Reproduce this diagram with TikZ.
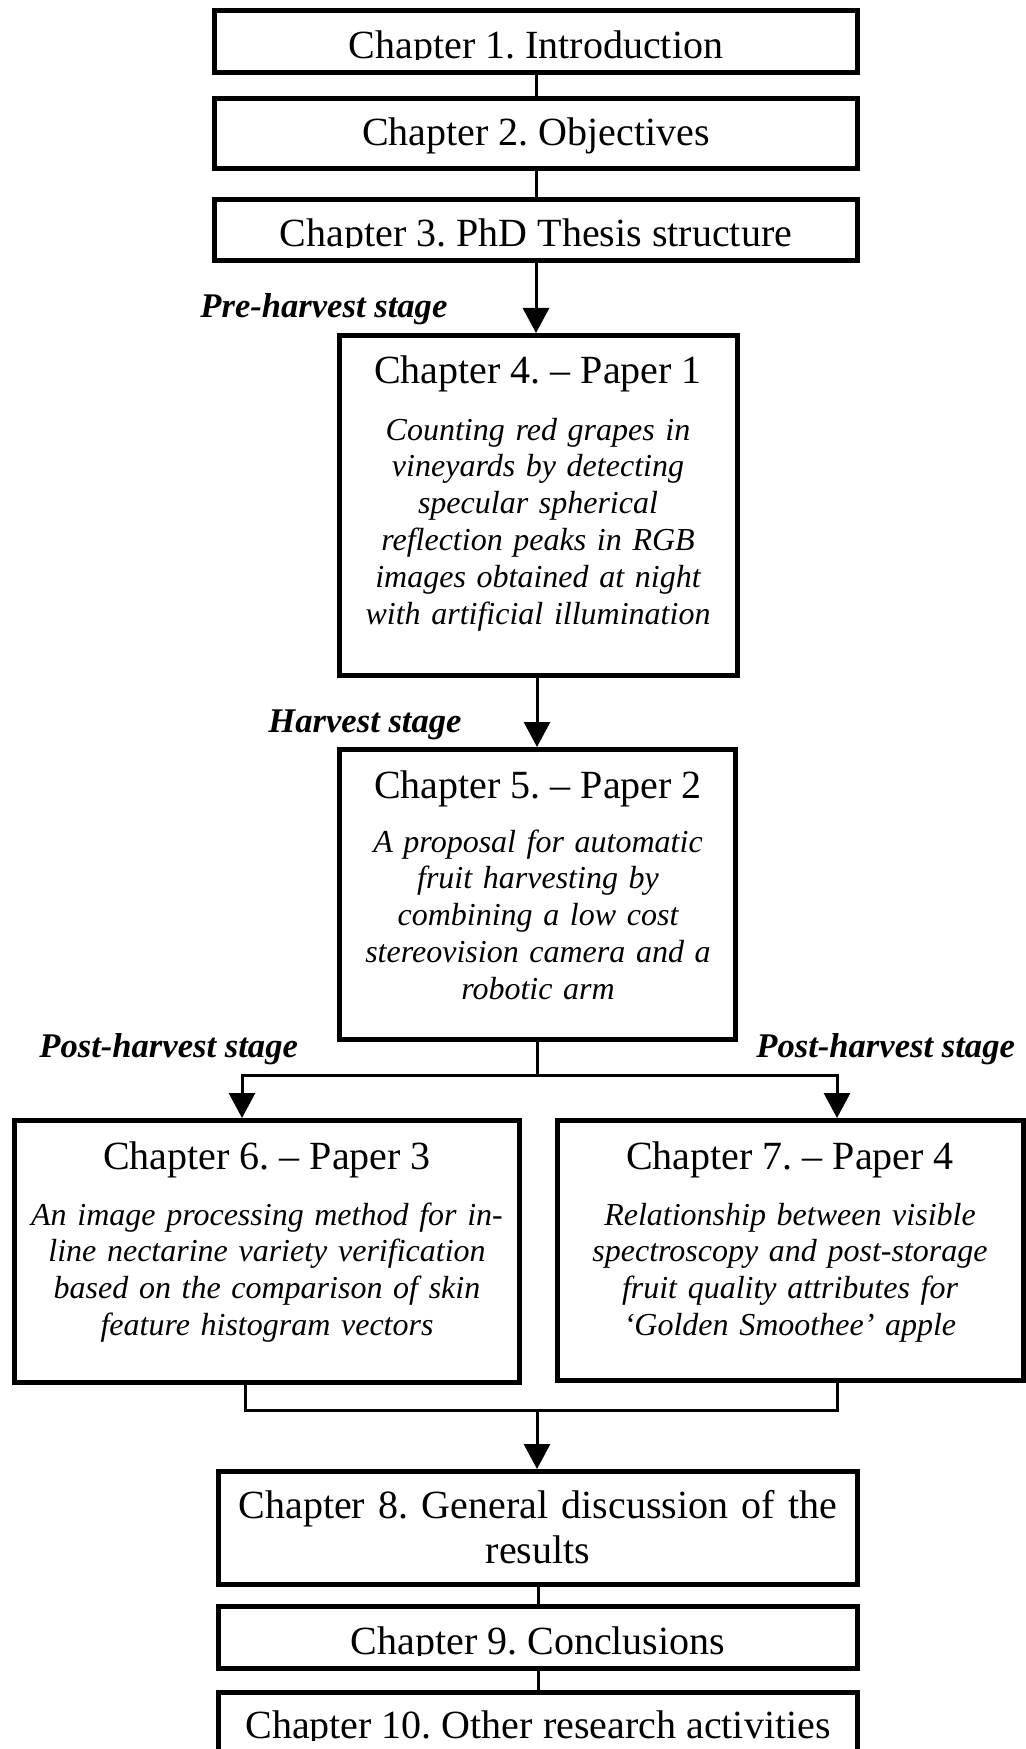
\documentclass[tikz,border=0pt]{standalone}
\usepackage{fontspec}
\setmainfont{Liberation Serif}
\usetikzlibrary{arrows.meta}
\frenchspacing

\tikzset{
    chapbox/.style={draw, line width=2.5pt, inner sep=0pt},
    chaptitle/.style={font=\fontsize{20}{22.5}\selectfont, inner sep=0pt, align=center},
    paper/.style={font=\itshape\fontsize{16}{18.4}\selectfont, inner sep=0pt, align=center},
    stage/.style={font=\bfseries\itshape\fontsize{17.3}{20}\selectfont, inner sep=0pt},
    link/.style={line width=1.5pt},
    flow/.style={link, -{Triangle[width=13pt,length=12.5pt]}}
}

\begin{document}
\begin{tikzpicture}[x=0.5pt,y=-0.5pt]
                \useasboundingbox (0,0) rectangle (1026,1749);

                \def\trunkx{537}

                \node[chapbox, minimum width=321.5pt, minimum height=31pt] (ch1) at (536,41.5) {};
                \node[chapbox, minimum width=321.5pt, minimum height=35pt] (ch2) at (536,133.5) {};
                \node[chapbox, minimum width=321.5pt, minimum height=30.5pt] (ch3) at (536,230) {};
                \node[chapbox, minimum width=199pt, minimum height=170pt] (ch4) at (538.5,505.5) {};
                \node[chapbox, minimum width=198pt, minimum height=145pt] (ch5) at (537.5,894.5) {};
                \node[chapbox, minimum width=252.5pt, minimum height=131pt] (ch6) at (267,1251.5) {};
                \node[chapbox, minimum width=233pt, minimum height=130pt] (ch7) at (790.5,1250.5) {};
                \node[chapbox, minimum width=319.5pt, minimum height=56.5pt] (ch8) at (538,1528) {};
                \node[chapbox, minimum width=319.5pt, minimum height=31pt] (ch9) at (538,1637.5) {};
                \node[chapbox, minimum width=319.5pt, minimum height=35pt] (ch10) at (538,1727) {};

                \begin{scope}
                    \clip (0,0) rectangle (1026,60);
                    \node[chaptitle, anchor=base] (ch1txt) at (536,59) {Chapter 1. Introduction};
                \end{scope}
                \node[chaptitle, anchor=base] (ch2txt) at (536,146) {Chapter 2. Objectives};
                \begin{scope}
                    \clip (0,180) rectangle (1026,248);
                    \node[chaptitle, anchor=base] (ch3txt) at (536,246.5) {Chapter 3. PhD Thesis structure};
                \end{scope}

                \node[chaptitle, anchor=base] (ch4txt) at (538,384) {Chapter 4. – Paper 1};
                \node[paper, text width=195pt, anchor=base] (paper1) at (538,440)
                    {Counting red grapes in\\ vineyards by detecting\\ specular spherical\\ reflection peaks in RGB\\ images obtained at night\\ with artificial illumination};

                \node[chaptitle, anchor=base] (ch5txt) at (538,798) {Chapter 5. – Paper 2};
                \node[paper, text width=195pt, anchor=base] (paper2) at (538,852)
                    {A proposal for automatic\\ fruit harvesting by\\ combining a low cost\\ stereovision camera and a\\ robotic arm};

                \node[chaptitle, anchor=base] (ch6txt) at (267,1169) {Chapter 6. – Paper 3};
                \node[paper, text width=248pt, anchor=base] (paper3) at (267,1225)
                    {An image processing method for in-\\ line nectarine variety verification\\ based on the comparison of skin\\ feature histogram vectors};

                \node[chaptitle, anchor=base] (ch7txt) at (790,1169) {Chapter 7. – Paper 4};
                \node[paper, text width=228pt, anchor=base] (paper4) at (790,1225)
                    {Relationship between visible\\ spectroscopy and post-storage\\ fruit quality attributes for\\ ‘Golden Smoothee’ apple};

                \node[chaptitle, text width=315pt, anchor=base] (ch8txt) at (538,1518) {Chapter 8. General discussion of the\\ results};
                \begin{scope}
                    \clip (0,1600) rectangle (1026,1655.5);
                    \node[chaptitle, anchor=base] (ch9txt) at (538,1654) {Chapter 9. Conclusions};
                \end{scope}
                \begin{scope}
                    \clip (0,1690) rectangle (1026,1740);
                    \node[chaptitle, anchor=base] (ch10txt) at (538,1738) {Chapter 10. Other research activities};
                \end{scope}

                \node[stage, anchor=base west] (preharv) at (200,318) {Pre-harvest stage};
                \node[stage, anchor=base west] (harv) at (268,732) {Harvest stage};
                \node[stage, anchor=base west] (postharvL) at (39,1057) {Post-harvest stage};
                \node[stage, anchor=base west] (postharvR) at (756,1057) {Post-harvest stage};

                \coordinate (forkL) at (242,1075);
                \coordinate (forkR) at (837,1075);
                \coordinate (joinL) at (245,1410);
                \coordinate (joinR) at (837,1410);

                \draw[link] (ch1) -- (ch2);
                \draw[link] (ch2) -- (ch3);
                \draw[flow] (ch3.south) -- (ch3.south |- ch4.north);
                \draw[flow] (ch4.south -| \trunkx,0) -- (ch5.north -| \trunkx,0);
                \draw[flow] (ch5.south -| \trunkx,0) |- (forkL) -- (forkL |- ch6.north);
                \draw[flow] (ch5.south -| \trunkx,0) |- (forkR) -- (forkR |- ch7.north);
                \draw[link] (joinL |- ch6.south) -- (joinL) -- (joinR) -- (joinR |- ch7.south);
                \draw[flow] (joinL -| \trunkx,0) -- (ch8.north -| \trunkx,0);
                \draw[link] (ch8) -- (ch9);
                \draw[link] (ch9) -- (ch10);
\end{tikzpicture}
\end{document}
